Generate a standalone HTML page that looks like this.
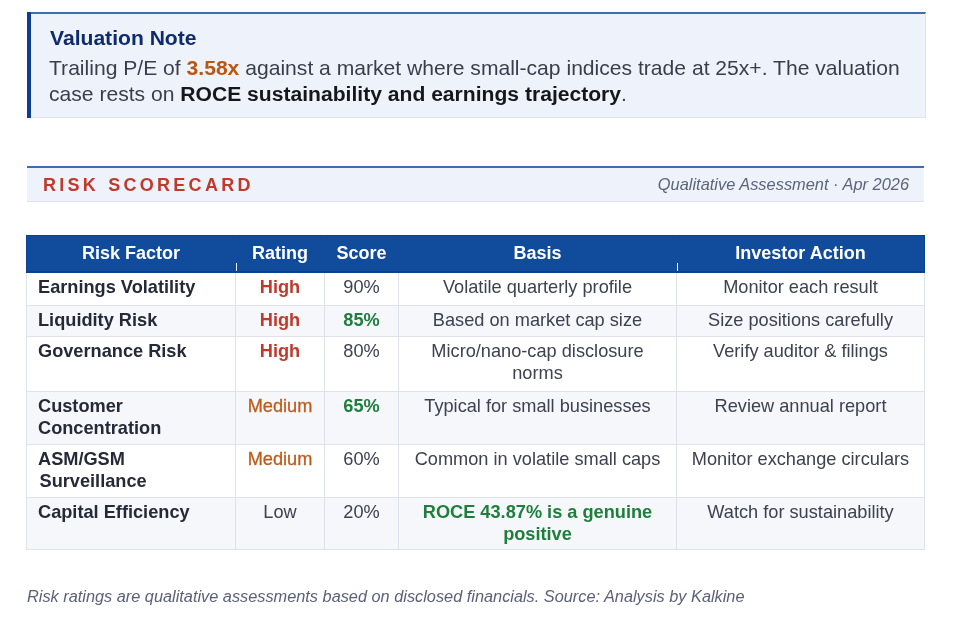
<!DOCTYPE html>
<html><head><meta charset="utf-8">
<style>
*{box-sizing:border-box;margin:0;padding:0}
html,body{width:975px;height:638px;background:#fff;overflow:hidden}
body{position:relative;font-family:"Liberation Sans",Arial,sans-serif;color:#2f3340}
.val{position:absolute;left:27px;top:12px;width:899px;height:106px;background:#eef2fa;
  border-left:0;border-top:2px solid #3d6cb2;border-right:1px solid #dfe4ee;border-bottom:1px solid #dfe4ee}
.val:before{content:'';position:absolute;left:0;top:-2px;bottom:-1px;width:4px;background:#0b3d91}
.val .t{position:absolute;left:23px;top:12px;font-size:21.1px;line-height:24px;font-weight:bold;color:#0e2c6c;white-space:nowrap}
.val .b{position:absolute;left:22px;top:41px;width:890px;white-space:nowrap;font-size:21.1px;line-height:25.5px;color:#3a3e4b}
.val .b .o{color:#b9560f;font-weight:bold}
.val .b .k{color:#15171c;font-weight:bold}
.sc{position:absolute;left:27px;top:166px;width:897px;height:36px;background:#eef2fa;border-top:2px solid #3d6cb2;border-bottom:1px solid #dde2ec}
.sc .r{position:absolute;left:16px;top:6px;font-size:18px;line-height:22px;font-weight:bold;color:#c0392b;letter-spacing:3.26px;word-spacing:1px;white-space:nowrap}
.sc .q{position:absolute;right:15px;top:6px;font-size:16.4px;line-height:20px;font-style:italic;color:#5e6478;white-space:nowrap}
table{position:absolute;left:26px;top:235px;width:898px;border-collapse:collapse;table-layout:fixed}
th:first-child{border-left-color:#0a4190}th:last-child{border-right-color:#0a4190}
th{background:#104c9b;color:#fff;font-size:18px;font-weight:bold;height:36.5px;border:1px solid #104c9b;border-top-color:#0a4190;border-bottom:2px solid #0a4190;text-align:center;vertical-align:middle;padding:0}
td{font-size:18.2px;line-height:22.6px;border:1px solid #dfe2ea;text-align:center;vertical-align:top;padding:3px 8px 0;color:#3d4150;white-space:nowrap}
td.f{text-align:left;font-weight:bold;color:#262a38;padding-left:11px}
tr.a td{background:#fff}
tr.b td{background:#f5f7fb}
.hi{color:#c0392b;font-weight:bold}
.me{color:#bd5c19;-webkit-text-stroke:0.3px #bd5c19}
.gr{color:#1e7e3c;font-weight:bold}
.foot{position:absolute;left:27px;top:586px;font-size:16.32px;line-height:20px;font-style:italic;color:#5b6079;white-space:nowrap}
.tick{position:absolute;width:1px;height:8px;background:#e8edf6;top:263px}
</style></head><body><div id="wrap" style="position:absolute;inset:0;will-change:transform">
<div class="val">
<div class="t">Valuation Note</div>
<div class="b">Trailing P/E of <span class="o">3.58x</span> against a market where small-cap indices trade at 25x+. The valuation<br>case rests on <span class="k">ROCE sustainability and earnings trajectory</span>.</div>
</div>
<div class="sc"><div class="r">RISK SCORECARD</div><div class="q">Qualitative Assessment · Apr 2026</div></div>
<table>
<colgroup><col style="width:209px"><col style="width:89px"><col style="width:74px"><col style="width:278px"><col style="width:248px"></colgroup>
<tr><th>Risk Factor</th><th>Rating</th><th>Score</th><th>Basis</th><th>Investor Action</th></tr>
<tr class="a" style="height:33px"><td class="f">Earnings Volatility</td><td class="hi">High</td><td>90%</td><td>Volatile quarterly profile</td><td>Monitor each result</td></tr>
<tr class="b" style="height:31px"><td class="f">Liquidity Risk</td><td class="hi">High</td><td class="gr">85%</td><td>Based on market cap size</td><td>Size positions carefully</td></tr>
<tr class="a" style="height:55px"><td class="f">Governance Risk</td><td class="hi">High</td><td>80%</td><td>Micro/nano-cap disclosure<br>norms</td><td>Verify auditor &amp; filings</td></tr>
<tr class="b" style="height:53px"><td class="f">Customer<br>Concentration</td><td class="me">Medium</td><td class="gr">65%</td><td>Typical for small businesses</td><td>Review annual report</td></tr>
<tr class="a" style="height:53px"><td class="f">ASM/GSM<br><span style="margin-left:1.5px">Surveillance</span></td><td class="me">Medium</td><td>60%</td><td>Common in volatile small caps</td><td>Monitor exchange circulars</td></tr>
<tr class="b" style="height:52px"><td class="f">Capital Efficiency</td><td>Low</td><td>20%</td><td class="gr">ROCE 43.87% is a genuine<br>positive</td><td>Watch for sustainability</td></tr>
</table>
<div class="tick" style="left:236px"></div>
<div class="tick" style="left:677px"></div>
<div class="foot">Risk ratings are qualitative assessments based on disclosed financials. Source: Analysis by Kalkine</div>
</div></body></html>
